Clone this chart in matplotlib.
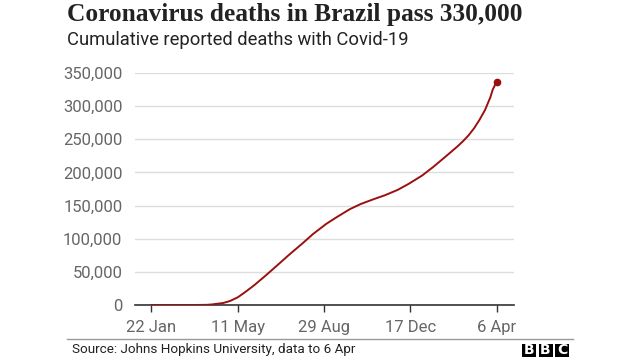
import matplotlib.pyplot as plt
import numpy as np
import pandas as pd
from matplotlib.patches import Rectangle

# cumulative deaths, Brazil
dates = ["2020-01-22", "2020-03-01", "2020-03-17", "2020-04-01", "2020-04-08",
         "2020-04-15", "2020-04-22", "2020-05-01", "2020-05-11", "2020-05-21",
         "2020-06-01", "2020-06-15", "2020-07-01", "2020-07-15", "2020-08-01",
         "2020-08-15", "2020-09-01", "2020-09-15", "2020-10-01", "2020-10-15",
         "2020-11-01", "2020-11-15", "2020-12-01", "2020-12-15", "2021-01-01",
         "2021-01-15", "2021-02-01", "2021-02-08", "2021-02-15", "2021-02-22",
         "2021-03-01", "2021-03-08", "2021-03-15", "2021-03-22", "2021-03-29",
         "2021-04-01", "2021-04-06"]
deaths = [0, 0, 1, 240, 800,
          1900, 2900, 6000, 11600, 20000,
          29900, 43900, 60600, 75400, 92500,
          107200, 122600, 133200, 144700, 152500,
          160000, 165800, 173800, 182900, 195400,
          208200, 225100, 232200, 239300, 247100,
          255800, 266400, 279300, 294000, 313800,
          325300, 336900]

tick_dates = ["2020-01-22", "2020-05-11", "2020-08-29", "2020-12-17", "2021-04-06"]
tick_labels = ["22 Jan", "11 May", "29 Aug", "17 Dec", "6 Apr"]
yticks = [0, 50000, 100000, 150000, 200000, 250000, 300000, 350000]

x = pd.to_datetime(dates)
red = "#9a1010"
grey = "#666666"
W, H = 640, 360

fig = plt.figure(figsize=(6.4, 3.6), dpi=100)
ax = fig.add_axes([135/W, 1-305/H, (514-135)/W, (305-73)/H])

ax.plot(x, deaths, color=red, lw=1.4, zorder=3)
ax.plot(x[-1], deaths[-1], "o", color=red, ms=4.5, zorder=4)

ax.set_xlim(pd.Timestamp("2020-01-01"), pd.Timestamp("2021-04-28"))
ax.set_ylim(0, 350000)
ax.set_yticks(yticks)
ax.set_yticklabels([f"{v:,}" for v in yticks])
ax.set_xticks(pd.to_datetime(tick_dates))
ax.set_xticklabels(tick_labels)

for s in ["top", "right", "left"]:
    ax.spines[s].set_visible(False)
ax.spines["bottom"].set_color("#333333")
ax.spines["bottom"].set_linewidth(1.2)
ax.grid(axis="y", color="#dddddd", lw=1)
ax.set_axisbelow(True)
ax.tick_params(axis="y", length=0, pad=9, labelsize=12, labelcolor=grey)
ax.tick_params(axis="x", length=5, width=1, color="#333333", pad=6,
               labelsize=12, labelcolor=grey)
for lab in ax.get_xticklabels() + ax.get_yticklabels():
    lab.set_family("Roboto")

fig.text(67/W, 1-14/H, "Coronavirus deaths in Brazil pass 330,000",
         fontsize=18.3, fontweight="bold", family="Liberation Serif", color="#222222",
         va="center", ha="left")
fig.text(67/W, 1-40/H, "Cumulative reported deaths with Covid-19",
         fontsize=13.2, family="Roboto", color="#222222", va="center", ha="left")

# footer
fig.add_artist(plt.Line2D([67/W, 573/W], [1-339/H, 1-339/H],
                          color="#999999", lw=1, transform=fig.transFigure))
fig.text(72/W, 1-349/H, "Source: Johns Hopkins University, data to 6 Apr",
         fontsize=9.7, family="Roboto", color="#222222", va="center", ha="left")
for i, letter in enumerate("BBC"):
    x0 = 522 + i * 16.5
    fig.add_artist(Rectangle((x0/W, 1-357/H), 14/W, 13/H, lw=0,
                             color="black", transform=fig.transFigure))
    fig.text((x0+7)/W, 1-350.5/H, letter, color="white", fontsize=10,
             fontweight="bold", ha="center", va="center", family="DejaVu Sans")

fig.savefig("out.png", dpi=100)
